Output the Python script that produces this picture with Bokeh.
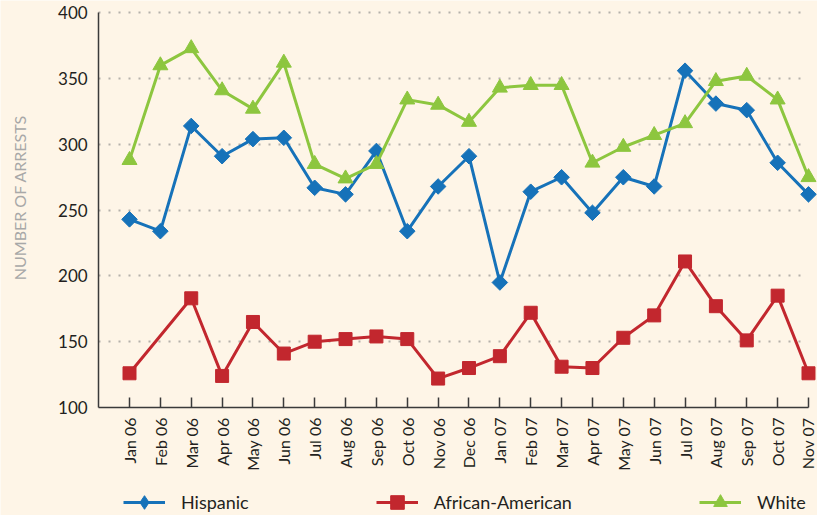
import math
from bokeh.plotting import figure
from bokeh.models import (ColumnDataSource, FixedTicker, Range1d, Legend,
                          LegendItem, Grid, LinearAxis, Label)
from bokeh.embed import file_html
from bokeh.resources import INLINE

# ---------------- data ----------------
months = ["Jan 06", "Feb 06", "Mar 06", "Apr 06", "May 06", "Jun 06",
          "Jul 06", "Aug 06", "Sep 06", "Oct 06", "Nov 06", "Dec 06",
          "Jan 07", "Feb 07", "Mar 07", "Apr 07", "May 07", "Jun 07",
          "Jul 07", "Aug 07", "Sep 07", "Oct 07", "Nov 07"]
hispanic = [243, 234, 314, 291, 304, 305, 267, 262, 295, 234, 268, 291,
            195, 264, 275, 248, 275, 268, 356, 331, 326, 286, 262]
african_american = [126, None, 183, 124, 165, 141, 150, 152, 154, 152, 122, 130,
                    139, 172, 131, 130, 153, 170, 211, 177, 151, 185, 126]
white = [288, 360, 373, 341, 327, 362, 285, 274, 285, 334, 330, 317,
         343, 345, 345, 286, 298, 307, 316, 348, 352, 334, 275]
y_ticks = [100, 150, 200, 250, 300, 350, 400]
series_names = ["Hispanic", "African-American", "White"]
y_axis_title = "NUMBER OF ARRESTS"

# ---------------- style ----------------
FONT = "Lato"
BG = "#FEF5E7"
BLUE = "#1672B9"
RED = "#C2272E"
GREEN = "#8DC63F"
AXIS = "#3a3a3a"
TEXT = "#231f20"
W, H = 817, 515

x = list(range(len(months)))
x_axis_start = -1                 # axis begins one month before the first point
y_lo, y_hi = y_ticks[0], y_ticks[-1]

# frame covers the whole canvas; axes are pinned with fixed_location
p = figure(width=W, height=H, output_backend="svg", toolbar_location=None,
           x_range=Range1d(-4.180, len(months) - 1 + 0.292),
           y_range=Range1d(17.91, 409.35),
           x_axis_location=None, y_axis_location=None,
           min_border=0, min_border_left=0, min_border_right=0,
           min_border_top=0, min_border_bottom=0,
           background_fill_color=BG, border_fill_color=BG,
           outline_line_color=None)
for g in list(p.grid):
    g.visible = False

# x axis
xaxis = LinearAxis(fixed_location=y_lo, ticker=FixedTicker(ticks=x),
                   bounds=(x_axis_start, len(months) - 1))
xaxis.major_label_overrides = {i: m for i, m in enumerate(months)}
xaxis.major_label_orientation = math.pi / 2
xaxis.major_tick_in = 10
xaxis.major_tick_out = 0
xaxis.minor_tick_line_color = None
xaxis.axis_line_color = AXIS
xaxis.axis_line_width = 1.5
xaxis.major_tick_line_color = AXIS
xaxis.major_tick_line_width = 1.5
xaxis.major_label_text_font = FONT
xaxis.major_label_text_font_size = "16px"
xaxis.major_label_text_color = TEXT
xaxis.major_label_standoff = 10
p.add_layout(xaxis, "below")

# y axis
yaxis = LinearAxis(fixed_location=x_axis_start, ticker=FixedTicker(ticks=y_ticks),
                   bounds=(y_lo, y_hi))
yaxis.major_tick_in = 0
yaxis.major_tick_out = 0
yaxis.minor_tick_line_color = None
yaxis.axis_line_color = AXIS
yaxis.axis_line_width = 1.5
yaxis.major_label_text_font = FONT
yaxis.major_label_text_font_size = "17px"
yaxis.major_label_text_color = TEXT
yaxis.major_label_standoff = 11
p.add_layout(yaxis, "left")

# dotted horizontal grid
grid = Grid(dimension=1, ticker=FixedTicker(ticks=y_ticks[1:]),
            grid_line_color="#b5b1aa", grid_line_dash="2 8",
            grid_line_width=2)
if "cross_bounds" in Grid.properties():
    grid.cross_bounds = (x_axis_start, len(months) - 1 - 0.1)
p.add_layout(grid)

# series
src_h = ColumnDataSource(dict(x=x, y=hispanic))
aa_x = [i for i, v in zip(x, african_american) if v is not None]
aa_y = [v for v in african_american if v is not None]
src_a = ColumnDataSource(dict(x=aa_x, y=aa_y))
src_w = ColumnDataSource(dict(x=x, y=white))

styles = [
    dict(color=BLUE, marker="square", size=11, angle=math.pi / 4, legend_marker="diamond"),
    dict(color=RED, marker="square", size=13, angle=0, legend_marker=None),
    dict(color=GREEN, marker="triangle", size=15, angle=0, legend_marker=None),
]

items = []
for name, src, st in zip(series_names, [src_h, src_a, src_w], styles):
    r1 = p.line("x", "y", source=src, line_color=st["color"], line_width=3)
    r2 = p.scatter("x", "y", source=src, marker=st["marker"], angle=st["angle"],
                   size=st["size"], fill_color=st["color"],
                   line_color=st["color"])
    if st["legend_marker"]:
        # legend-only swatch (the chart itself uses rotated squares)
        r2 = p.scatter("x", "y", source=src, marker=st["legend_marker"],
                       size=st["size"], fill_color=st["color"],
                       line_color=st["color"], visible=False)
    items.append(LegendItem(label=name, renderers=[r1, r2]))

legend = Legend(items=items, orientation="horizontal", location=(123, -4),
                spacing=127, label_standoff=16, glyph_width=42,
                glyph_height=34, label_height=34, padding=0, margin=0,
                border_line_color=None, background_fill_alpha=0,
                inactive_fill_alpha=0,
                label_text_font=FONT, label_text_font_size="18px",
                label_text_color=TEXT)
p.add_layout(legend, "center")

p.add_layout(Label(x=-3.564, y=259.6, x_units="data", y_units="data",
                   text=y_axis_title, angle=math.pi / 2,
                   text_align="center", text_baseline="middle",
                   text_font=FONT, text_font_size="16px",
                   text_color="#a8a8a8"))

open("out.html", "w").write(file_html(p, INLINE))
